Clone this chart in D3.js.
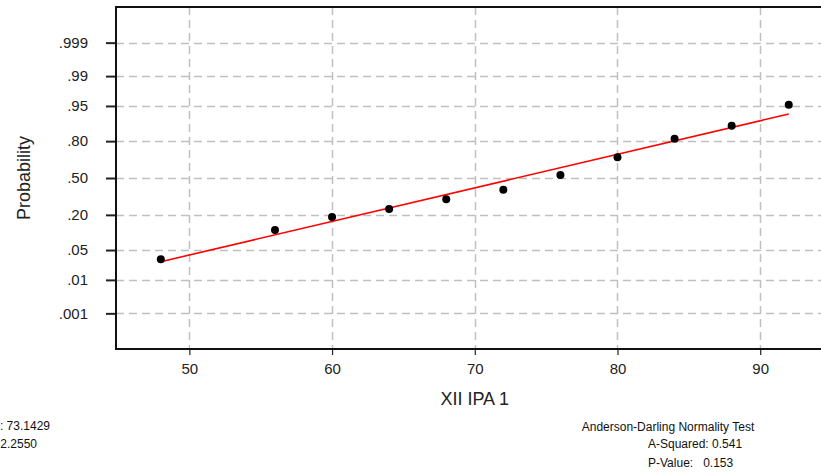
<!DOCTYPE html>
<html>
<head>
<meta charset="utf-8">
<script src="https://cdn.jsdelivr.net/npm/d3@7"></script>
<style>
  body { margin: 0; background: #fff; }
  svg { display: block; font-family: Arial, "Liberation Sans", sans-serif; }
  .tick-label { font-size: 15px; fill: #222; }
  .axis-title { font-size: 18px; fill: #222; }
  .note { font-size: 12px; fill: #111; }
</style>
</head>
<body>
<svg id="chart" width="821" height="474"></svg>
<script>
// Data
const xValues = [48, 56, 60, 64, 68, 72, 76, 80, 84, 88, 92];
const probValues = [0.032, 0.118, 0.187, 0.240, 0.313, 0.395, 0.527, 0.682, 0.815, 0.884, 0.953];
const fitX = [48, 92];
const fitP = [0.028, 0.928];
const xTicks = [50, 60, 70, 80, 90];
const probTicks = [0.001, 0.01, 0.05, 0.20, 0.50, 0.80, 0.95, 0.99, 0.999];
const probTickLabels = [".001", ".01", ".05", ".20", ".50", ".80", ".95", ".99", ".999"];
const statsLeft = ["Average: 73.1429", "StDev: 12.2550"];
const statsRight = ["A-Squared: 0.541", "P-Value:   0.153"];

// inverse normal CDF (Acklam approximation), used for the probability axis
function normInv(p) {
  const a = [-3.969683028665376e+01, 2.209460984245205e+02, -2.759285104469687e+02, 1.383577518672690e+02, -3.066479806614716e+01, 2.506628277459239e+00];
  const b = [-5.447609879822406e+01, 1.615858368580409e+02, -1.556989798598866e+02, 6.680131188771972e+01, -1.328068155288572e+01];
  const c = [-7.784894002430293e-03, -3.223964580411365e-01, -2.400758277161838e+00, -2.549732539343734e+00, 4.374664141464968e+00, 2.938163982698783e+00];
  const d = [7.784695709041462e-03, 3.224671290700398e-01, 2.445134137142996e+00, 3.754408661907416e+00];
  const pl = 0.02425;
  let q, r;
  if (p < pl) {
    q = Math.sqrt(-2 * Math.log(p));
    return (((((c[0]*q+c[1])*q+c[2])*q+c[3])*q+c[4])*q+c[5]) / ((((d[0]*q+d[1])*q+d[2])*q+d[3])*q+1);
  } else if (p <= 1 - pl) {
    q = p - 0.5; r = q * q;
    return (((((a[0]*r+a[1])*r+a[2])*r+a[3])*r+a[4])*r+a[5])*q / (((((b[0]*r+b[1])*r+b[2])*r+b[3])*r+b[4])*r+1);
  }
  q = Math.sqrt(-2 * Math.log(1 - p));
  return -(((((c[0]*q+c[1])*q+c[2])*q+c[3])*q+c[4])*q+c[5]) / ((((d[0]*q+d[1])*q+d[2])*q+d[3])*q+1);
}

const margin = {top: 7, left: 116, bottom: 349, right: 823};
const svg = d3.select("#chart");

const xScale = d3.scaleLinear().domain([44.86, 94.4]).range([margin.left, margin.right]);
const zScale = d3.scaleLinear().domain([-3.904, 3.904]).range([margin.bottom, margin.top]);
const yScale = p => zScale(normInv(p));

// grid
const grid = svg.append("g")
  .attr("stroke", "#c0c0c0")
  .attr("stroke-width", 1.5)
  .attr("stroke-dasharray", "8,5");

grid.selectAll(".hgrid")
  .data(probTicks)
  .join("line")
  .attr("class", "hgrid")
  .attr("x1", margin.left)
  .attr("x2", margin.right)
  .attr("y1", d => Math.round(yScale(d)) + 0.5)
  .attr("y2", d => Math.round(yScale(d)) + 0.5);

grid.selectAll(".vgrid")
  .data(xTicks)
  .join("line")
  .attr("class", "vgrid")
  .attr("y1", margin.top)
  .attr("y2", margin.bottom)
  .attr("x1", d => Math.round(xScale(d)) + 0.5)
  .attr("x2", d => Math.round(xScale(d)) + 0.5);

// x axis
const xAxisG = svg.append("g")
  .attr("transform", `translate(0,${margin.bottom})`)
  .call(d3.axisBottom(xScale).tickValues(xTicks).tickSize(6).tickSizeOuter(0).tickPadding(8));
xAxisG.select(".domain").remove();
xAxisG.selectAll(".tick line").attr("stroke", "#222").attr("stroke-width", 1.2);
xAxisG.selectAll(".tick text").attr("class", "tick-label").attr("font-size", null).attr("font-family", null).attr("fill", null);

// y axis
const yAxisG = svg.append("g")
  .attr("transform", `translate(${margin.left},0)`)
  .call(d3.axisLeft(zScale)
    .tickValues(probTicks.map(normInv))
    .tickFormat((d, i) => probTickLabels[i])
    .tickSize(10).tickSizeOuter(0).tickPadding(18));
yAxisG.select(".domain").remove();
yAxisG.selectAll(".tick line").attr("stroke", "#222").attr("stroke-width", 2);
yAxisG.selectAll(".tick text").attr("class", "tick-label").attr("font-size", null).attr("font-family", null).attr("fill", null);

// frame
svg.append("rect")
  .attr("x", margin.left)
  .attr("y", margin.top)
  .attr("width", margin.right - margin.left)
  .attr("height", margin.bottom - margin.top)
  .attr("fill", "none")
  .attr("stroke", "#111")
  .attr("stroke-width", 2);

// fitted line
svg.append("line")
  .attr("x1", xScale(fitX[0]))
  .attr("y1", yScale(fitP[0]))
  .attr("x2", xScale(fitX[1]))
  .attr("y2", yScale(fitP[1]))
  .attr("stroke", "#ff0000")
  .attr("stroke-width", 1.6);

// points
svg.selectAll(".pt")
  .data(xValues.map((x, i) => ({x, p: probValues[i]})))
  .join("circle")
  .attr("class", "pt")
  .attr("cx", d => xScale(d.x))
  .attr("cy", d => yScale(d.p))
  .attr("r", 4)
  .attr("fill", "#000");

// axis titles
svg.append("text")
  .attr("class", "axis-title")
  .attr("text-anchor", "middle")
  .attr("transform", `translate(30,${zScale(0)}) rotate(-90)`)
  .text("Probability");

svg.append("text")
  .attr("class", "axis-title")
  .attr("text-anchor", "middle")
  .attr("x", xScale(70))
  .attr("y", 405)
  .text("XII IPA 1");

// stats text (cut off at the left edge, as in the original)
svg.selectAll(".stat-left")
  .data(statsLeft)
  .join("text")
  .attr("class", "note stat-left")
  .attr("text-anchor", "end")
  .attr("x", (d, i) => i === 0 ? 50 : 37)
  .attr("y", (d, i) => 430 + i * 18)
  .text(d => d);

svg.append("text")
  .attr("class", "note")
  .attr("text-anchor", "middle")
  .attr("x", 668)
  .attr("y", 431)
  .text("Anderson-Darling Normality Test");

svg.selectAll(".stat-right")
  .data(statsRight)
  .join("text")
  .attr("class", "note stat-right")
  .attr("x", 648)
  .attr("y", (d, i) => 448 + i * 19)
  .style("white-space", "pre")
  .text(d => d);
</script>
</body>
</html>
